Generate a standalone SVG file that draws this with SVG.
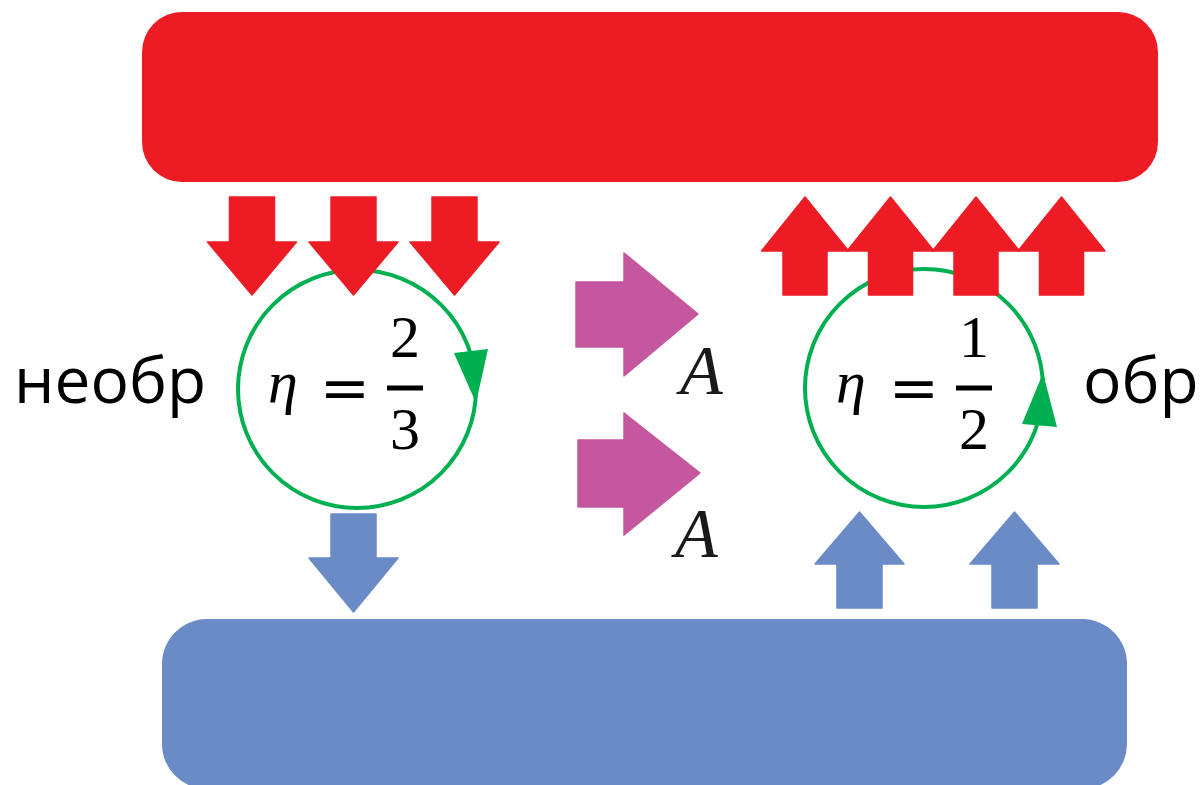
<svg xmlns="http://www.w3.org/2000/svg" width="1203" height="785" viewBox="0 0 1203 785">
<style>
.red{fill:#ED1C24;stroke:#ED1C24;stroke-width:1.5;stroke-linejoin:round}
.blue{fill:#6B8BC7;stroke:#6B8BC7;stroke-width:1.5;stroke-linejoin:round}
.mag{fill:#C4579E;stroke:#C4579E;stroke-width:1.5;stroke-linejoin:round}
.cyc{fill:none;stroke:#00B050;stroke-width:4}
.tri{fill:#00B050}
.lbl{font-family:"Open Sans","Noto Sans",sans-serif;font-size:64px;fill:#000}
.mi{font-family:"Liberation Serif",serif;font-style:italic;font-size:60px;fill:#000}
.mn{font-family:"Liberation Serif",serif;font-size:60px;fill:#000}
.eq{font-family:"DejaVu Serif",serif;font-size:60px;fill:#000}
.A{font-family:"Liberation Serif",serif;font-style:italic;font-size:70px;fill:#1a1a1a}
</style>
<g id="hot">
<rect x="142" y="12" width="1016" height="170" rx="40" fill="#ED1C24"/>
</g>
<g id="cold">
<rect x="162" y="619" width="965" height="170" rx="45" fill="#6B8BC7"/>
</g>
<g id="cycle-left">
<circle class="cyc" cx="357" cy="389" r="119"/>
<polygon class="tri" points="454,353 488,349 476,403"/>
<text class="mi" x="268" y="402">η</text>
<text class="eq" x="345" y="408" text-anchor="middle">=</text>
<text class="mn" x="405" y="357" text-anchor="middle">2</text>
<rect x="387" y="385.5" width="36" height="5"/>
<text class="mn" x="405" y="449" text-anchor="middle">3</text>
</g>
<g id="cycle-right">
<circle class="cyc" cx="924" cy="388" r="119"/>
<polygon class="tri" points="1022,424 1057,427 1043,373"/>
<text class="mi" x="836" y="402">η</text>
<text class="eq" x="914" y="408" text-anchor="middle">=</text>
<text class="mn" x="974" y="357" text-anchor="middle">1</text>
<rect x="956" y="385.5" width="36" height="5"/>
<text class="mn" x="974" y="449" text-anchor="middle">2</text>
</g>
<g id="labels">
<text class="lbl" x="14" y="403">необр</text>
<text class="lbl" x="1083" y="403">обр</text>
</g>
<g id="connectors">
<polygon class="red" points="229.5,197 274.5,197 274.5,242 296.5,242 252,295 207.5,242 229.5,242"/>
<polygon class="red" points="331,197 376,197 376,242 398,242 353.5,295 309,242 331,242"/>
<polygon class="red" points="432,197 477,197 477,242 499,242 454.5,295 410,242 432,242"/>
<polygon class="red" points="783,295 827,295 827,251 848.5,251 805,197 761.5,251 783,251"/>
<polygon class="red" points="868.5,295 912.5,295 912.5,251 934,251 890.5,197 847,251 868.5,251"/>
<polygon class="red" points="954,295 998,295 998,251 1019.5,251 976,197 932.5,251 954,251"/>
<polygon class="red" points="1039.5,295 1083.5,295 1083.5,251 1105,251 1061.5,197 1018,251 1039.5,251"/>
<polygon class="blue" points="331,514 376,514 376,558 398,558 353.5,612 309,558 331,558"/>
<polygon class="blue" points="837,608 882,608 882,564 904,564 859.5,512 815,564 837,564"/>
<polygon class="blue" points="992,608 1037,608 1037,564 1059,564 1014.5,512 970,564 992,564"/>
<polygon class="mag" points="576,282 624,282 624,253 698,314 624,376 624,347 576,347"/>
<polygon class="mag" points="578,440 624,440 624,413 700,473 624,535 624,507 578,507"/>
<text class="A" x="680" y="394">A</text>
<text class="A" x="675" y="557">A</text>
</g>
</svg>
